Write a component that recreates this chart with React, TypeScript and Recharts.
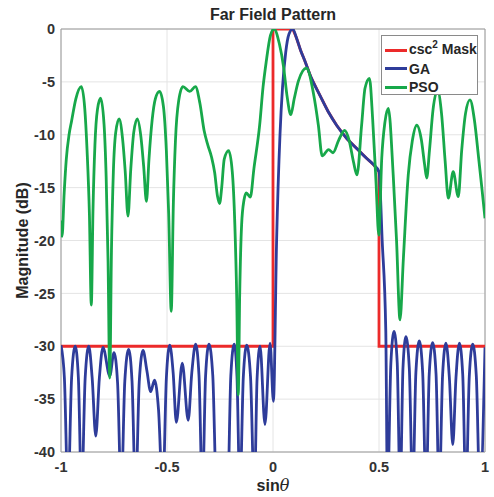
import React from "react";
import { LineChart, Line, XAxis, YAxis, CartesianGrid, ReferenceArea } from "recharts";

// [sinθ, dB] pairs
type Pt = [number, number];

const X_TICKS = [-1, -0.5, 0, 0.5, 1];
const Y_TICKS = [0, -5, -10, -15, -20, -25, -30, -35, -40];

const MASK: Pt[] = [
  [-1, -30], [0, -30], [0, 0], [0.093, 0], [0.11, -0.8], [0.13, -2], [0.15, -3],
  [0.18, -4.6], [0.222, -6.3], [0.26, -7.8], [0.3, -9.1], [0.35, -10.4], [0.395, -11.3],
  [0.44, -12.2], [0.473, -12.8], [0.5, -13.5], [0.5, -30], [1, -30],
];

// nulls below the axis are kept at -44 and clipped
const GA: Pt[] = [
  [-1.0, -29.9], [-0.984, -33], [-0.967, -44],
  [-0.95, -33], [-0.933, -30], [-0.918, -33], [-0.903, -44],
  [-0.886, -33], [-0.869, -30], [-0.853, -33], [-0.836, -38.5], [-0.819, -33],
  [-0.802, -30.1], [-0.77, -32.8], [-0.75, -30.6], [-0.733, -33.5], [-0.716, -44],
  [-0.699, -33.3], [-0.681, -30.3], [-0.665, -33.3], [-0.648, -44],
  [-0.631, -33.4], [-0.613, -30.4], [-0.595, -32.3], [-0.577, -34.3], [-0.559, -33.2],
  [-0.54, -36], [-0.52, -44],
  [-0.503, -33], [-0.487, -29.9], [-0.471, -32.5], [-0.456, -37.2], [-0.428, -31.6], [-0.4, -37],
  [-0.383, -32.5], [-0.365, -29.8], [-0.349, -32.8], [-0.333, -44],
  [-0.318, -32.8], [-0.302, -29.8], [-0.284, -32.8], [-0.266, -44], [-0.24, -42], [-0.214, -44],
  [-0.199, -32.8], [-0.183, -29.8], [-0.17, -32.8], [-0.156, -44],
  [-0.14, -32.9], [-0.124, -29.9], [-0.106, -32.9], [-0.088, -44],
  [-0.075, -33], [-0.061, -30], [-0.038, -37.4], [-0.014, -29.7], [0.002, -35.2],
  [0.017, -20], [0.033, -10], [0.045, -5.5], [0.06, -2.2], [0.075, -0.5], [0.093, 0],
  [0.11, -0.8], [0.13, -2], [0.15, -3], [0.18, -4.6], [0.222, -6.3], [0.26, -7.8], [0.3, -9.1],
  [0.35, -10.4], [0.395, -11.3], [0.44, -12.2], [0.473, -12.8], [0.5, -13.5], [0.515, -20],
  [0.532, -28.5], [0.54, -44],
  [0.556, -31.6], [0.571, -28.6], [0.586, -31.6], [0.6, -44],
  [0.613, -32.1], [0.627, -29.1], [0.643, -32.1], [0.659, -44],
  [0.674, -32.5], [0.69, -29.5], [0.706, -32.5], [0.722, -44],
  [0.737, -32.6], [0.753, -29.65], [0.769, -32.6], [0.784, -44],
  [0.8, -32.7], [0.816, -29.7], [0.832, -33], [0.848, -39.3], [0.863, -33],
  [0.879, -29.7], [0.895, -32.7], [0.91, -44],
  [0.926, -32.8], [0.942, -29.8], [0.959, -32.8], [0.976, -44], [1.0, -30.1],
];

const PSO: Pt[] = [
  [-1.0, -18.1], [-0.995, -19.6], [-0.985, -15.5], [-0.975, -12.3], [-0.962, -10], [-0.95, -8.7],
  [-0.93, -6.6], [-0.904, -5.45],
  [-0.888, -7.5], [-0.877, -11.5], [-0.866, -17.5], [-0.857, -26.1], [-0.849, -17], [-0.84, -11],
  [-0.828, -7.6], [-0.813, -6.55],
  [-0.797, -9], [-0.787, -14], [-0.778, -22], [-0.77, -33], [-0.762, -21], [-0.753, -13.5],
  [-0.742, -9.8], [-0.726, -8.5],
  [-0.71, -10.3], [-0.697, -13.5], [-0.684, -17.7], [-0.671, -13.3], [-0.657, -9.8], [-0.64, -8.5],
  [-0.623, -10.2], [-0.61, -13], [-0.597, -16.3], [-0.585, -12.3], [-0.57, -8.6], [-0.555, -6.6],
  [-0.535, -5.9],
  [-0.517, -7.3], [-0.503, -11.5], [-0.492, -17.5], [-0.48, -26.7], [-0.47, -16.5], [-0.46, -10.5],
  [-0.445, -6.8], [-0.425, -5.45], [-0.393, -5.9], [-0.366, -5.45],
  [-0.345, -7], [-0.325, -9.6], [-0.307, -11], [-0.29, -12.1], [-0.275, -13.6], [-0.262, -15.8],
  [-0.252, -16.5], [-0.242, -15], [-0.23, -12.3], [-0.209, -11.5],
  [-0.192, -13.5], [-0.18, -18.5], [-0.171, -25.5], [-0.164, -34.6], [-0.157, -25], [-0.148, -18.5],
  [-0.137, -16.2], [-0.126, -15.5], [-0.107, -15.9],
  [-0.09, -13.2], [-0.063, -9.1], [-0.047, -5.5], [-0.032, -3.1], [-0.012, -0.6], [0.005, 0],
  [0.03, -1.4], [0.05, -3.6], [0.066, -6.3], [0.084, -8.1], [0.1, -6.6], [0.12, -4.9], [0.158, -3.7],
  [0.19, -6], [0.214, -9.1], [0.232, -12], [0.262, -11.4], [0.283, -11.7], [0.31, -10.5],
  [0.338, -9.6], [0.36, -10.6], [0.38, -12.6], [0.396, -13.8],
  [0.418, -9.1], [0.434, -5.6], [0.455, -4.66], [0.47, -8.5], [0.486, -14.5], [0.499, -19.5],
  [0.513, -12.2], [0.528, -8.8], [0.544, -7.5], [0.567, -13.8], [0.583, -20.1], [0.599, -27.5],
  [0.615, -21.7], [0.638, -13.8], [0.657, -10.6], [0.678, -9.1],
  [0.7, -10.5], [0.715, -12.8], [0.725, -14.1], [0.738, -11.5], [0.755, -7.6], [0.776, -5.8],
  [0.795, -8], [0.812, -12.5], [0.827, -16], [0.85, -13.5], [0.874, -15.85],
  [0.89, -11.5], [0.908, -8], [0.929, -6.7], [0.95, -8.6], [0.97, -12.2], [0.985, -15], [1.0, -17.9],
];

const FONT = '"Liberation Sans", Arial, Helvetica, sans-serif';
const TEXT = "#262626";

const SERIES = [
  { key: "mask", color: "#ec2a2a", pts: MASK, curve: "linear" as const },
  { key: "ga", color: "#2e3c9a", pts: GA, curve: "monotone" as const },
  { key: "pso", color: "#17a84a", pts: PSO, curve: "monotone" as const },
];

const toRows = (pts: Pt[]) => pts.map(([x, y]) => ({ x, y }));

const tickStyle = { fontSize: 14.5, fontWeight: 700, fill: "#333", fontFamily: FONT };

function LegendBox() {
  const rows = [
    { color: SERIES[0].color, label: <>csc<span style={{ fontSize: 10, position: "relative", top: -6 }}>2</span> Mask</> },
    { color: SERIES[1].color, label: <>GA</> },
    { color: SERIES[2].color, label: <>PSO</> },
  ];
  return (
    <div
      style={{
        position: "absolute", left: 381, top: 35, width: 97, height: 60,
        background: "#fff", border: "1px solid #8a8a8a", boxSizing: "border-box",
      }}
    >
      {rows.map((r, i) => (
        <div
          key={i}
          style={{
            position: "absolute", left: 3, top: 5 + i * 18.5, height: 18, lineHeight: "18px",
            display: "flex", alignItems: "center", fontSize: 14, fontWeight: 700, color: TEXT,
            whiteSpace: "nowrap",
          }}
        >
          <span style={{ display: "inline-block", width: 22, height: 3, background: r.color, marginRight: 2 }} />
          <span>{r.label}</span>
        </div>
      ))}
    </div>
  );
}

export default function App() {
  return (
    <div style={{ position: "absolute", left: 0, top: 0, width: 494, height: 497, background: "#fff", fontFamily: FONT }}>
      <div
        style={{
          position: "absolute", left: 173, top: 7, width: 200, textAlign: "center",
          fontSize: 16, lineHeight: "16px", fontWeight: 700, color: TEXT,
        }}
      >
        Far Field Pattern
      </div>
      <LineChart width={494} height={497} margin={{ top: 29, right: 9, bottom: 0, left: 0 }}>
        <CartesianGrid stroke="#e4e4e4" />
        <XAxis
          dataKey="x"
          type="number"
          domain={[-1, 1]}
          ticks={X_TICKS}
          interval={0}
          allowDataOverflow
          axisLine={false}
          tickLine={false}
          tickSize={0}
          tickMargin={10}
          height={45}
          tick={tickStyle}
        />
        <YAxis
          type="number"
          domain={[-40, 0]}
          ticks={Y_TICKS}
          interval={0}
          allowDataOverflow
          axisLine={false}
          tickLine={false}
          tickSize={0}
          tickMargin={6}
          width={61}
          tick={tickStyle}
          label={{
            value: "Magnitude (dB)",
            angle: -90,
            position: "insideLeft",
            offset: 22,
            style: { textAnchor: "middle", fontSize: 16, fontWeight: 700, fill: TEXT, fontFamily: FONT },
          }}
        />
        {SERIES.map((s) => (
          <Line
            key={s.key}
            data={toRows(s.pts)}
            dataKey="y"
            type={s.curve}
            stroke={s.color}
            strokeWidth={2.8}
            dot={false}
            activeDot={false}
            isAnimationActive={false}
          />
        ))}
        <ReferenceArea x1={-1} x2={1} y1={-40} y2={0} fill="none" stroke="#9a9a9a" strokeWidth={1} />
      </LineChart>
      <LegendBox />
      <div
        style={{
          position: "absolute", left: 223, top: 478, width: 100, textAlign: "center",
          fontSize: 16, lineHeight: "16px", fontWeight: 700, color: TEXT,
        }}
      >
        sin<span style={{ fontFamily: '"DejaVu Serif", "Liberation Serif", serif', fontStyle: "italic", fontWeight: 400 }}>θ</span>
      </div>
    </div>
  );
}
